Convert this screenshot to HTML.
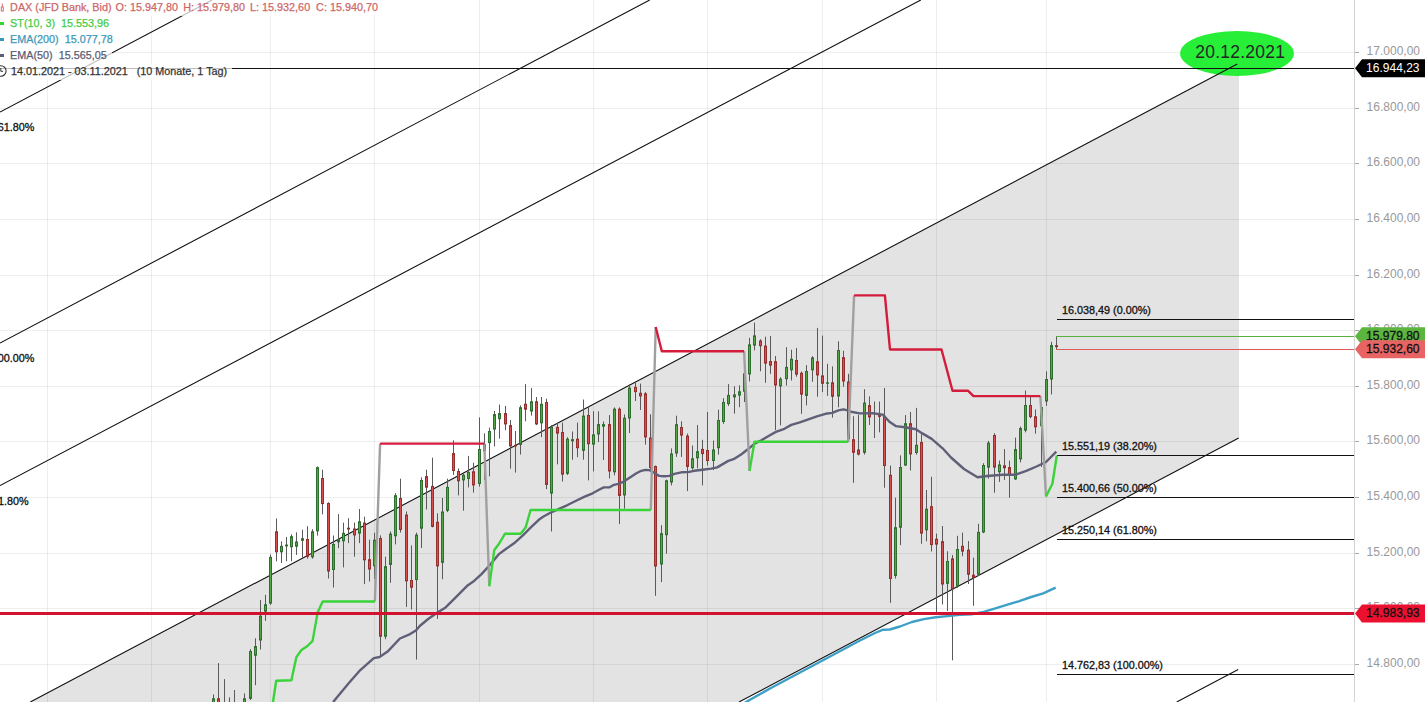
<!DOCTYPE html>
<html><head><meta charset="utf-8"><style>
html,body{margin:0;padding:0;background:#fff;}
#c{position:relative;width:1425px;height:702px;overflow:hidden;background:#fff;font-family:"Liberation Sans",sans-serif;}
svg{position:absolute;left:0;top:0;}
.fl{font-size:10.8px;fill:#111;stroke:#111;stroke-width:0.3px;font-family:"Liberation Sans",sans-serif;}
.al{font-size:12px;fill:#999;font-family:"Liberation Sans",sans-serif;}
.pl{font-size:12px;stroke-width:0.3px;font-family:"Liberation Sans",sans-serif;}
.el{font-size:17.5px;letter-spacing:0.25px;fill:#262626;font-family:"Liberation Sans",sans-serif;}
.lg{position:absolute;left:0;height:16px;background:rgba(255,255,255,0.72);}
.lt{position:absolute;left:0;height:16px;width:1px;font-size:10.8px;line-height:16px;white-space:nowrap;-webkit-text-stroke:0.25px currentColor;}
.lt span{position:absolute;top:-1px;}
</style></head><body><div id="c">
<svg width="1425" height="702" viewBox="0 0 1425 702">
<polygon points="30.30,702.00 1239.00,63.10 1239.00,437.90 739.00,702.00" fill="#e3e3e3"/>
<path d="M47.5 0V702M151.5 0V702M270.5 0V702M374.5 0V702M479.5 0V702M593.5 0V702M707.5 0V702M822.5 0V702M936.5 0V702M1046.5 0V702M0 52.5H1354M0 108.5H1354M0 163.5H1354M0 219.5H1354M0 275.5H1354M0 330.5H1354M0 386.5H1354M0 441.5H1354M0 497.5H1354M0 553.5H1354M0 608.5H1354M0 664.5H1354" stroke="#000" stroke-opacity="0.065" stroke-width="1" fill="none"/>
<ellipse cx="1237" cy="53.45" rx="56.9" ry="22.45" fill="#27ee37"/>
<path d="M0.00 112.00L212.10 0.00M0.00 343.00L649.70 0.00M0.00 485.60L920.80 0.00M30.30 702.00L1237.30 64.00M739.00 702.00L1238.70 438.10M1176.70 702.00L1238.20 669.50" stroke="#111" stroke-width="1.1" fill="none"/>
<path d="M0 68.5H1354" stroke="#111" stroke-width="1" fill="none"/>
<path d="M1057 319.5H1354M1057 455.5H1354M1057 497.5H1354M1057 539.5H1354M1057 674.5H1354" stroke="#111" stroke-width="1" fill="none"/>
<path d="M213.5 694.4V710.0M218.5 663.1V710.0M224.5 679.1V712.0M229.5 697.4V712.0M234.5 690.0V712.0M244.5 693.4V710.0M250.5 649.2V700.0M255.5 638.3V685.2M260.5 600.0V649.6M265.5 594.8V620.9M270.5 554.4V604.9M276.5 518.5V561.3M281.5 541.5V563.0M286.5 536.9V561.3M291.5 534.4V561.3M296.5 532.3V554.9M302.5 529.7V557.4M307.5 526.2V558.7M312.5 529.2V558.7M317.5 466.4V535.6M322.5 469.7V514.4M328.5 502.3V578.5M333.5 535.5V587.5M338.5 514.1V548.2M343.5 522.6V567.4M348.5 518.2V543.1M354.5 522.6V556.7M359.5 509.0V543.1M364.5 516.7V584.1M369.5 539.7V581.5M374.5 532.8V579.0M380.5 535.4V656.0M385.5 556.7V639.2M390.5 531.5V582.8M395.5 493.1V544.4M400.5 478.7V532.6M406.5 511.5V606.9M411.5 545.4V609.5M416.5 532.6V659.6M421.5 477.4V548.0M426.5 469.7V509.5M432.5 457.7V527.4M437.5 513.3V618.9M442.5 498.0V579.2M447.5 478.7V512.1M453.5 440.3V474.9M458.5 468.5V495.4M463.5 472.2V510.7M468.5 455.9V487.4M473.5 462.8V492.6M479.5 417.4V486.7M484.5 433.3V480.0M489.5 427.7V476.4M494.5 411.0V446.4M499.5 404.6V438.7M505.5 405.9V430.3M510.5 420.0V468.7M515.5 431.0V472.6M520.5 405.4V454.6M525.5 384.1V421.3M531.5 388.0V415.6M536.5 397.0V425.1M541.5 397.0V437.2M546.5 398.7V489.2M551.5 425.1V531.5M557.5 422.6V464.4M562.5 422.6V481.5M567.5 437.2V475.1M572.5 431.5V459.7M577.5 422.6V457.2M583.5 399.5V459.7M588.5 406.0V480.4M593.5 411.3V471.5M598.5 411.3V442.1M603.5 421.5V460.0M609.5 415.1V478.5M614.5 407.4V475.4M619.5 407.4V524.1M624.5 414.4V508.7M629.5 384.4V433.1M635.5 382.6V401.0M640.5 383.6V410.0M645.5 392.1V444.6M650.5 414.3V470.0M655.5 465.5V595.8M661.5 525.2V582.1M666.5 479.7V553.7M671.5 448.4V485.4M676.5 415.7V456.9M681.5 421.3V456.9M687.5 433.6V491.1M692.5 445.5V469.7M697.5 425.0V468.3M702.5 439.8V485.4M707.5 412.0V465.5M713.5 440.5V470.0M718.5 409.7V454.6M723.5 398.2V423.8M728.5 384.1V405.9M734.5 386.2V413.6M739.5 385.4V407.2M744.5 370.0V402.0M749.5 337.9V381.5M754.5 322.6V350.3M760.5 339.2V371.3M765.5 336.7V382.8M770.5 335.9V373.8M775.5 356.0V430.0M780.5 377.2V425.4M786.5 347.2V385.6M791.5 349.7V380.5M796.5 347.9V376.7M801.5 371.5V413.8M806.5 365.1V405.4M812.5 356.2V381.8M817.5 327.9V396.7M822.5 335.6V392.1M827.5 363.8V395.9M832.5 366.4V417.7M838.5 341.3V407.3M843.5 350.8V386.7M848.5 373.8V441.8M853.5 416.2V482.8M858.5 414.9V455.4M864.5 389.2V454.6M869.5 396.4V425.1M874.5 401.5V438.0M879.5 401.5V432.3M884.5 388.0V487.7M890.5 465.6V602.8M895.5 497.7V578.5M900.5 455.4V545.1M905.5 415.1V466.0M910.5 412.0V470.5M916.5 407.9V454.6M921.5 434.2V543.8M926.5 490.0V541.3M931.5 476.8V551.5M936.5 533.6V612.0M942.5 526.0V604.5M947.5 551.3V611.0M952.5 555.0V660.3M957.5 535.8V587.9M962.5 532.6V556.3M968.5 541.1V584.0M973.5 557.6V605.8M978.5 523.8V576.0M983.5 463.2V533.2M988.5 440.9V478.6M994.5 433.2V492.7M999.5 460.6V481.9M1004.5 449.1V479.9M1009.5 460.6V497.8M1015.5 437.6V479.9M1020.5 426.5V462.4M1025.5 390.6V432.4M1030.5 396.5V418.3M1035.5 409.4V433.7M1041.5 404.6V467.0M1046.5 371.3V405.9M1051.5 341.8V394.4M1056.5 336.3V349.4" stroke="#5a5a5a" stroke-width="1" fill="none"/>
<g fill="#55a545" stroke="#2e6e2e" stroke-width="1"><rect x="212.5" y="698.8" width="2" height="10.7"/><rect x="223.5" y="705.5" width="2" height="4.0"/><rect x="228.5" y="705.5" width="2" height="4.0"/><rect x="233.5" y="705.5" width="2" height="4.0"/><rect x="243.5" y="698.8" width="2" height="10.7"/><rect x="249.5" y="651.5" width="2" height="46.8"/><rect x="254.5" y="646.6" width="2" height="8.6"/><rect x="259.5" y="616.2" width="2" height="23.8"/><rect x="264.5" y="604.8" width="2" height="6.4"/><rect x="269.5" y="557.4" width="2" height="45.7"/><rect x="280.5" y="546.4" width="2" height="5.4"/><rect x="285.5" y="545.1" width="2" height="0.8"/><rect x="290.5" y="536.7" width="2" height="10.0"/><rect x="295.5" y="542.0" width="2" height="4.2"/><rect x="301.5" y="538.7" width="2" height="1.6"/><rect x="311.5" y="531.8" width="2" height="25.1"/><rect x="316.5" y="467.7" width="2" height="63.1"/><rect x="332.5" y="544.5" width="2" height="25.0"/><rect x="337.5" y="539.7" width="2" height="2.1"/><rect x="342.5" y="533.3" width="2" height="7.5"/><rect x="358.5" y="521.8" width="2" height="11.3"/><rect x="373.5" y="540.2" width="2" height="25.5"/><rect x="384.5" y="566.7" width="2" height="69.5"/><rect x="389.5" y="534.1" width="2" height="30.3"/><rect x="394.5" y="495.7" width="2" height="40.1"/><rect x="415.5" y="535.1" width="2" height="44.4"/><rect x="420.5" y="480.5" width="2" height="47.7"/><rect x="441.5" y="512.0" width="2" height="50.3"/><rect x="446.5" y="487.4" width="2" height="22.9"/><rect x="462.5" y="475.3" width="2" height="4.6"/><rect x="467.5" y="472.5" width="2" height="6.0"/><rect x="478.5" y="449.5" width="2" height="34.0"/><rect x="483.5" y="444.5" width="2" height="6.4"/><rect x="488.5" y="431.5" width="2" height="11.1"/><rect x="493.5" y="414.6" width="2" height="14.4"/><rect x="498.5" y="413.6" width="2" height="5.1"/><rect x="519.5" y="407.7" width="2" height="36.7"/><rect x="530.5" y="401.8" width="2" height="9.2"/><rect x="540.5" y="404.3" width="2" height="18.5"/><rect x="550.5" y="427.4" width="2" height="65.7"/><rect x="566.5" y="439.2" width="2" height="34.1"/><rect x="571.5" y="439.7" width="2" height="1.1"/><rect x="582.5" y="416.1" width="2" height="34.2"/><rect x="592.5" y="434.9" width="2" height="9.2"/><rect x="597.5" y="424.6" width="2" height="9.3"/><rect x="602.5" y="424.6" width="2" height="1.6"/><rect x="613.5" y="409.2" width="2" height="62.6"/><rect x="623.5" y="418.2" width="2" height="76.7"/><rect x="628.5" y="388.2" width="2" height="29.8"/><rect x="660.5" y="533.7" width="2" height="30.3"/><rect x="665.5" y="480.8" width="2" height="53.9"/><rect x="670.5" y="454.0" width="2" height="28.0"/><rect x="675.5" y="424.7" width="2" height="28.3"/><rect x="691.5" y="458.8" width="2" height="9.0"/><rect x="696.5" y="451.7" width="2" height="6.1"/><rect x="712.5" y="450.0" width="2" height="10.5"/><rect x="717.5" y="420.5" width="2" height="27.2"/><rect x="722.5" y="402.5" width="2" height="19.0"/><rect x="727.5" y="395.4" width="2" height="8.2"/><rect x="733.5" y="394.9" width="2" height="2.0"/><rect x="738.5" y="391.8" width="2" height="3.3"/><rect x="743.5" y="373.8" width="2" height="17.5"/><rect x="748.5" y="344.9" width="2" height="29.0"/><rect x="753.5" y="335.9" width="2" height="9.2"/><rect x="779.5" y="379.2" width="2" height="6.7"/><rect x="785.5" y="367.4" width="2" height="11.3"/><rect x="790.5" y="359.2" width="2" height="10.6"/><rect x="805.5" y="371.5" width="2" height="23.9"/><rect x="811.5" y="357.9" width="2" height="11.9"/><rect x="826.5" y="382.8" width="2" height="0.5"/><rect x="837.5" y="350.5" width="2" height="45.5"/><rect x="863.5" y="403.1" width="2" height="49.2"/><rect x="894.5" y="527.7" width="2" height="47.7"/><rect x="899.5" y="467.5" width="2" height="59.7"/><rect x="904.5" y="423.7" width="2" height="41.3"/><rect x="915.5" y="445.3" width="2" height="7.2"/><rect x="925.5" y="509.2" width="2" height="20.6"/><rect x="946.5" y="561.5" width="2" height="21.8"/><rect x="956.5" y="549.5" width="2" height="36.6"/><rect x="977.5" y="532.4" width="2" height="41.8"/><rect x="982.5" y="465.5" width="2" height="66.4"/><rect x="987.5" y="443.2" width="2" height="23.9"/><rect x="998.5" y="465.0" width="2" height="6.7"/><rect x="1014.5" y="449.6" width="2" height="29.3"/><rect x="1019.5" y="428.6" width="2" height="30.3"/><rect x="1024.5" y="405.5" width="2" height="24.6"/><rect x="1040.5" y="407.5" width="2" height="18.2"/><rect x="1045.5" y="379.5" width="2" height="21.5"/><rect x="1050.5" y="345.6" width="2" height="33.4"/></g>
<g fill="#d65050" stroke="#962e2e" stroke-width="1"><rect x="217.5" y="698.8" width="2" height="10.7"/><rect x="275.5" y="531.8" width="2" height="20.0"/><rect x="306.5" y="539.5" width="2" height="16.9"/><rect x="321.5" y="478.5" width="2" height="25.1"/><rect x="327.5" y="503.5" width="2" height="67.5"/><rect x="347.5" y="528.2" width="2" height="0.8"/><rect x="353.5" y="529.0" width="2" height="5.9"/><rect x="363.5" y="523.1" width="2" height="36.7"/><rect x="368.5" y="559.7" width="2" height="9.3"/><rect x="379.5" y="538.5" width="2" height="97.7"/><rect x="399.5" y="498.5" width="2" height="31.0"/><rect x="405.5" y="515.1" width="2" height="65.7"/><rect x="410.5" y="580.5" width="2" height="6.7"/><rect x="425.5" y="476.7" width="2" height="10.5"/><rect x="431.5" y="486.4" width="2" height="40.0"/><rect x="436.5" y="522.3" width="2" height="43.6"/><rect x="452.5" y="453.6" width="2" height="16.9"/><rect x="457.5" y="471.5" width="2" height="9.3"/><rect x="472.5" y="471.8" width="2" height="13.1"/><rect x="504.5" y="413.6" width="2" height="10.3"/><rect x="509.5" y="425.6" width="2" height="20.3"/><rect x="514.5" y="445.4" width="2" height="0.5"/><rect x="524.5" y="404.3" width="2" height="4.9"/><rect x="535.5" y="401.8" width="2" height="22.1"/><rect x="545.5" y="402.5" width="2" height="81.9"/><rect x="556.5" y="427.4" width="2" height="5.7"/><rect x="561.5" y="432.5" width="2" height="41.6"/><rect x="576.5" y="439.2" width="2" height="8.5"/><rect x="587.5" y="415.5" width="2" height="28.2"/><rect x="608.5" y="424.6" width="2" height="46.4"/><rect x="618.5" y="409.2" width="2" height="86.2"/><rect x="634.5" y="387.4" width="2" height="4.2"/><rect x="639.5" y="393.3" width="2" height="2.6"/><rect x="644.5" y="393.8" width="2" height="43.1"/><rect x="649.5" y="438.1" width="2" height="29.4"/><rect x="654.5" y="466.5" width="2" height="99.5"/><rect x="680.5" y="427.5" width="2" height="7.6"/><rect x="686.5" y="436.1" width="2" height="30.3"/><rect x="701.5" y="449.4" width="2" height="4.2"/><rect x="706.5" y="450.5" width="2" height="10.0"/><rect x="759.5" y="341.0" width="2" height="4.7"/><rect x="764.5" y="346.1" width="2" height="17.0"/><rect x="769.5" y="361.5" width="2" height="3.6"/><rect x="774.5" y="361.7" width="2" height="23.3"/><rect x="795.5" y="360.5" width="2" height="13.6"/><rect x="800.5" y="373.3" width="2" height="20.8"/><rect x="816.5" y="361.8" width="2" height="13.1"/><rect x="821.5" y="375.9" width="2" height="7.4"/><rect x="831.5" y="382.8" width="2" height="13.4"/><rect x="842.5" y="357.7" width="2" height="23.3"/><rect x="847.5" y="382.0" width="2" height="56.7"/><rect x="852.5" y="439.7" width="2" height="12.6"/><rect x="857.5" y="450.0" width="2" height="4.1"/><rect x="868.5" y="405.6" width="2" height="11.3"/><rect x="873.5" y="415.4" width="2" height="0.0"/><rect x="878.5" y="415.4" width="2" height="1.0"/><rect x="883.5" y="416.3" width="2" height="49.2"/><rect x="889.5" y="475.3" width="2" height="103.2"/><rect x="909.5" y="423.7" width="2" height="30.2"/><rect x="920.5" y="442.5" width="2" height="90.6"/><rect x="930.5" y="506.7" width="2" height="37.9"/><rect x="935.5" y="539.2" width="2" height="4.9"/><rect x="941.5" y="541.7" width="2" height="42.3"/><rect x="951.5" y="558.9" width="2" height="29.8"/><rect x="961.5" y="546.3" width="2" height="4.8"/><rect x="967.5" y="550.2" width="2" height="24.0"/><rect x="972.5" y="575.2" width="2" height="2.2"/><rect x="993.5" y="435.5" width="2" height="31.6"/><rect x="1003.5" y="465.8" width="2" height="2.0"/><rect x="1008.5" y="467.6" width="2" height="7.2"/><rect x="1029.5" y="405.5" width="2" height="11.1"/><rect x="1034.5" y="416.8" width="2" height="10.0"/><rect x="1055.5" y="345.7" width="2" height="0.9"/></g>
<path d="M740.0 706.0L746.0 702.0L770.0 688.5L800.0 672.5L830.0 656.5L860.0 640.5L875.0 633.0L882.5 629.8L889.8 629.5L900.0 626.5L911.9 622.0L923.9 619.1L935.8 617.3L947.7 616.1L959.7 614.9L971.6 614.3L983.5 611.9L995.4 608.3L1007.4 604.7L1019.3 601.2L1031.2 597.0L1043.2 593.4L1055.7 587.7" stroke="#3ea0c6" stroke-width="2.4" fill="none" stroke-linejoin="round"/>
<path d="M333.1 702.0L349.1 682.8L359.2 671.2L373.8 658.1L379.6 657.0L388.3 650.9L399.9 638.5L410.1 634.1L415.9 630.5L420.0 625.8L428.5 618.8L437.1 612.8L445.6 607.4L454.2 598.9L467.9 585.2L473.0 581.8L481.5 574.1L490.1 564.7L498.6 554.4L505.5 549.3L514.0 543.3L522.6 535.6L531.1 527.1L538.8 519.8L543.1 516.8L549.9 513.0L558.5 509.1L567.0 505.3L575.6 501.0L584.1 496.8L592.6 493.3L599.5 489.5L603.8 487.4L609.7 487.2L614.0 484.8L618.3 483.9L622.6 482.2L631.1 476.7L636.0 473.5L640.3 471.2L645.4 469.9L649.7 470.1L652.2 471.6L655.6 473.8L659.1 475.9L664.2 476.3L669.3 475.9L674.4 473.8L681.3 472.3L688.1 472.1L694.1 470.8L702.6 469.7L711.2 468.6L717.2 467.4L722.3 464.4L728.3 460.9L734.3 458.8L741.1 454.5L748.5 448.8L754.5 443.7L761.4 440.3L769.9 435.2L775.9 431.9L784.4 428.8L791.3 424.9L799.8 422.4L808.4 419.4L816.9 416.4L825.5 413.8L832.3 412.9L838.3 410.4L843.4 409.4L847.7 410.4L851.1 411.7L859.7 413.4L872.6 413.3L882.8 414.6L889.4 421.7L895.7 426.1L905.1 427.2L916.0 429.2L922.3 433.4L931.7 438.9L942.6 448.3L951.0 457.5L964.0 469.0L977.5 477.3L987.1 476.0L1002.5 474.7L1015.3 474.7L1026.3 470.9L1036.5 466.5L1046.0 462.0L1056.3 451.7" stroke="#5f5f78" stroke-width="2.4" fill="none" stroke-linejoin="round"/>
<path d="M374.9 601.5L380.1 443.6" stroke="#a0a0a0" stroke-width="2.4" fill="none" stroke-linejoin="round"/>
<path d="M484.3 443.6L489.3 586.2" stroke="#a0a0a0" stroke-width="2.4" fill="none" stroke-linejoin="round"/>
<path d="M650.8 510.0L655.7 327.0" stroke="#a0a0a0" stroke-width="2.4" fill="none" stroke-linejoin="round"/>
<path d="M744.1 351.2L749.5 471.0" stroke="#a0a0a0" stroke-width="2.4" fill="none" stroke-linejoin="round"/>
<path d="M848.2 441.8L854.1 295.4" stroke="#a0a0a0" stroke-width="2.4" fill="none" stroke-linejoin="round"/>
<path d="M1040.4 396.1L1046.0 496.5" stroke="#a0a0a0" stroke-width="2.4" fill="none" stroke-linejoin="round"/>
<path d="M271.5 712.0L276.2 680.8L291.4 680.3L296.4 657.1L301.5 650.0L307.5 646.0L312.6 640.9L317.6 612.6L322.7 601.5L374.9 601.5" stroke="#3ad33a" stroke-width="2.4" fill="none" stroke-linejoin="round"/>
<path d="M489.3 586.2L494.3 549.9L499.2 543.5L504.9 533.8L520.6 533.8L525.6 527.5L530.6 510.0L650.8 510.0" stroke="#3ad33a" stroke-width="2.4" fill="none" stroke-linejoin="round"/>
<path d="M749.5 471.0L754.5 441.8L848.2 441.8" stroke="#3ad33a" stroke-width="2.4" fill="none" stroke-linejoin="round"/>
<path d="M1046.0 496.5L1052.4 483.7L1056.8 455.5" stroke="#3ad33a" stroke-width="2.4" fill="none" stroke-linejoin="round"/>
<path d="M380.1 443.6L484.3 443.6" stroke="#d41c3c" stroke-width="2.4" fill="none" stroke-linejoin="round"/>
<path d="M655.7 327.0L661.8 351.2L744.1 351.2" stroke="#d41c3c" stroke-width="2.4" fill="none" stroke-linejoin="round"/>
<path d="M854.1 295.4L884.9 295.4L890.0 349.5L941.5 349.5L952.5 390.7L967.9 390.7L973.5 396.1L1040.4 396.1" stroke="#d41c3c" stroke-width="2.4" fill="none" stroke-linejoin="round"/>
<rect x="0" y="612" width="1354" height="3" fill="#d2122e"/>
<path d="M1056 336.5H1354" stroke="#5cae3e" stroke-width="1" fill="none"/>
<path d="M1056 349.5H1354" stroke="#e05a5a" stroke-width="1" fill="none"/>
<text x="1062" y="313.5" class="fl">16.038,49 (0.00%)</text>
<text x="1062" y="449.5" class="fl">15.551,19 (38.20%)</text>
<text x="1062" y="491.5" class="fl">15.400,66 (50.00%)</text>
<text x="1062" y="533.5" class="fl">15.250,14 (61.80%)</text>
<text x="1062" y="668.5" class="fl">14.762,83 (100.00%)</text>
<text x="34.3" y="131" class="fl" text-anchor="end">61.80%</text>
<text x="34.3" y="362" class="fl" text-anchor="end">00.00%</text>
<text x="28.7" y="505" class="fl" text-anchor="end">1.80%</text>
<rect x="1354" y="0" width="1" height="702" fill="#d4d4d4"/>
<rect x="1355" y="52" width="4" height="1" fill="#aaa"/>
<text x="1420" y="55.0" class="al" text-anchor="end">17.000,00</text>
<rect x="1355" y="108" width="4" height="1" fill="#aaa"/>
<text x="1420" y="111.0" class="al" text-anchor="end">16.800,00</text>
<rect x="1355" y="163" width="4" height="1" fill="#aaa"/>
<text x="1420" y="166.0" class="al" text-anchor="end">16.600,00</text>
<rect x="1355" y="219" width="4" height="1" fill="#aaa"/>
<text x="1420" y="222.0" class="al" text-anchor="end">16.400,00</text>
<rect x="1355" y="275" width="4" height="1" fill="#aaa"/>
<text x="1420" y="278.0" class="al" text-anchor="end">16.200,00</text>
<rect x="1355" y="330" width="4" height="1" fill="#aaa"/>
<text x="1420" y="333.0" class="al" text-anchor="end">16.000,00</text>
<rect x="1355" y="386" width="4" height="1" fill="#aaa"/>
<text x="1420" y="389.0" class="al" text-anchor="end">15.800,00</text>
<rect x="1355" y="441" width="4" height="1" fill="#aaa"/>
<text x="1420" y="444.0" class="al" text-anchor="end">15.600,00</text>
<rect x="1355" y="497" width="4" height="1" fill="#aaa"/>
<text x="1420" y="500.0" class="al" text-anchor="end">15.400,00</text>
<rect x="1355" y="553" width="4" height="1" fill="#aaa"/>
<text x="1420" y="556.0" class="al" text-anchor="end">15.200,00</text>
<rect x="1355" y="608" width="4" height="1" fill="#aaa"/>
<text x="1420" y="611.0" class="al" text-anchor="end">15.000,00</text>
<rect x="1355" y="664" width="4" height="1" fill="#aaa"/>
<text x="1420" y="667.0" class="al" text-anchor="end">14.800,00</text>
<polygon points="1355,68.3 1362,59.3 1425,59.3 1425,77.3 1362,77.3" fill="#000"/>
<text x="1419.5" y="71.9" class="pl" fill="#fff" stroke="none" text-anchor="end">16.944,23</text>
<polygon points="1355,336.3 1362,327.3 1425,327.3 1425,345.3 1362,345.3" fill="#5cb53f"/>
<text x="1419.5" y="339.9" class="pl" fill="#111" stroke="#111" text-anchor="end">15.979,80</text>
<polygon points="1355,349.3 1362,340.3 1425,340.3 1425,358.3 1362,358.3" fill="#e86464"/>
<text x="1419.5" y="352.9" class="pl" fill="#111" stroke="#111" text-anchor="end">15.932,60</text>
<polygon points="1355,613.5 1362,604.5 1425,604.5 1425,622.5 1362,622.5" fill="#ec1030"/>
<text x="1419.5" y="617.1" class="pl" fill="#111" stroke="#111" text-anchor="end">14.983,93</text>
<text x="1195.2" y="57.9" class="el">20.12.2021</text>
</svg>

<div class="lg" style="top:0;width:383px"></div>
<div class="lg" style="top:16px;width:115px"></div>
<div class="lg" style="top:32px;width:118px"></div>
<div class="lg" style="top:48px;width:112px"></div>
<div class="lg" style="top:64px;width:232px"></div>
<div class="lt" style="top:0px;color:#cd6767"><span style="left:10.1px">DAX (JFD Bank, Bid)</span><span style="left:115.6px">O: 15.947,80</span><span style="left:183.3px">H: 15.979,80</span><span style="left:250.1px">L: 15.932,60</span><span style="left:316.1px">C: 15.940,70</span></div>
<div class="lt" style="top:16px;color:#44cc44"><span style="left:10.1px">ST(10, 3)&nbsp;&nbsp;15.553,96</span></div>
<div class="lt" style="top:32px;color:#3c98b8"><span style="left:10.1px">EMA(200)&nbsp;&nbsp;15.077,78</span></div>
<div class="lt" style="top:48px;color:#5c5c72"><span style="left:10.1px">EMA(50)&nbsp;&nbsp;15.565,05</span></div>
<div class="lt" style="top:64px;color:#333"><span style="left:10.9px">14.01.2021 - 03.11.2021&nbsp;&nbsp;&nbsp;(10 Monate, 1 Tag)</span></div>
<div style="position:absolute;left:0;top:22px;width:4px;height:3px;background:#33d633"></div>
<div style="position:absolute;left:0;top:38px;width:4px;height:3px;background:#3c98b8"></div>
<div style="position:absolute;left:0;top:54px;width:4px;height:3px;background:#5c5c72"></div>
<svg width="12" height="80" style="position:absolute;left:0;top:0">
<path d="M2.3 3.5V7" stroke="#d07070" stroke-width="1"/>
<rect x="1.3" y="7" width="2" height="4" fill="none" stroke="#d07070" stroke-width="1"/>
<circle cx="0.8" cy="71" r="5.3" fill="none" stroke="#333" stroke-width="1.1"/>
<path d="M0.8 68V71.3H3" stroke="#333" stroke-width="1" fill="none"/>
</svg>

</div></body></html>
